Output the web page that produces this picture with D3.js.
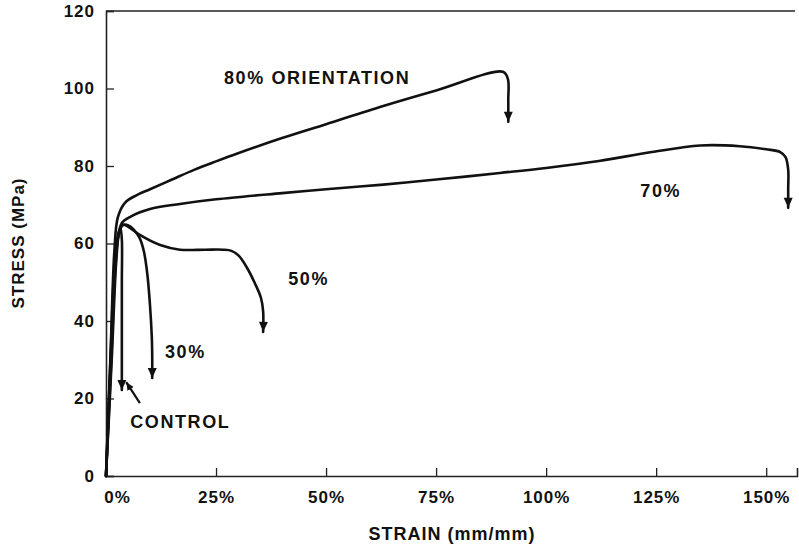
<!DOCTYPE html>
<html><head><meta charset="utf-8">
<script src="https://cdn.jsdelivr.net/npm/d3@7"></script>
<style>
html,body{margin:0;padding:0;background:#fff;}
text{font-family:"Liberation Sans",Arial,Helvetica,sans-serif;font-weight:bold;fill:#111;}
</style></head>
<body>
<svg id="chart" width="799" height="550"></svg>
<script>
// ---- data (strain in %, stress in MPa) ----
const strain80 = [0, 1.0, 1.9, 2.7, 4.3, 7.0, 10, 15, 20, 25, 30, 40, 50, 63, 75, 90.2, 91.3, 91.4, 91.4];
const stress80 = [0, 30, 58, 66.8, 70.5, 72.5, 74, 76.5, 79, 81.2, 83.3, 87.2, 90.8, 95.5, 99.5, 104.3, 102.5, 97, 91.4];

const strain70 = [0, 1.0, 2.0, 2.8, 3.6, 5.5, 10, 16.8, 25, 40, 50, 63, 75, 89.5, 100, 112, 124, 135, 144, 150, 153.2, 154.4, 155, 155, 155];
const stress70 = [0, 30, 55, 62, 65.3, 66.9, 68.9, 70.2, 71.4, 73, 74, 75.2, 76.5, 78.2, 79.5, 81.3, 83.6, 85.3, 85.1, 84.3, 83.6, 82.3, 79, 74, 69.2];

const strain50 = [0, 1.1, 2.1, 2.9, 3.9, 5.5, 7.7, 12.3, 16.8, 22.5, 26.6, 28.5, 30.2, 32.0, 33.8, 35.2, 35.7, 35.7];
const stress50 = [0, 30, 55, 63, 64.8, 64, 62.2, 59.6, 58.4, 58.4, 58.4, 58.1, 56.8, 53.8, 49.8, 46, 42.5, 37.2];

const strain30 = [0, 1.2, 2.2, 3.0, 3.9, 5.2, 6.3, 7.6, 8.6, 9.4, 10.0, 10.4, 10.5, 10.5];
const stress30 = [0, 30, 55, 63, 64.8, 64.6, 63.6, 61.5, 58, 52, 44, 36, 31, 25.3];

const strainC = [0, 1.3, 2.3, 2.9, 3.3, 3.6, 3.6, 3.6, 3.6];
const stressC = [0, 30, 55, 62.5, 64, 61, 50, 35, 22.2];

const yTicks = [0, 20, 40, 60, 80, 100, 120];
const xTicks = [0, 25, 50, 75, 100, 125, 150];
const xTickLabels = ["0%", "25%", "50%", "75%", "100%", "125%", "150%"];

const labelText   = ["80% ORIENTATION", "70%", "50%", "30%", "CONTROL"];
const labelStrain = [26.8, 121.4, 41.4, 13.4, 5.5];
const labelStress = [101.2, 72, 49.3, 30.5, 12.4];

// leader from CONTROL label to control curve end
const leaderStrain = [7.7, 4.6];
const leaderStress = [18.8, 24.2];

// ---- chart ----
const svg = d3.select("#chart");
const x = d3.scaleLinear().domain([0, 157]).range([106, 797]);
const y = d3.scaleLinear().domain([0, 120]).range([476, 11]);

const defs = svg.append("defs");
defs.append("marker").attr("id", "arrow")
  .attr("markerUnits", "userSpaceOnUse")
  .attr("viewBox", "0 -5 10 10").attr("refX", 10).attr("refY", 0)
  .attr("markerWidth", 12).attr("markerHeight", 10)
  .attr("orient", "auto")
  .append("path").attr("d", "M0,-4.5L10,0L0,4.5Z").attr("fill", "#111");
defs.append("marker").attr("id", "arrowSmall")
  .attr("markerUnits", "userSpaceOnUse")
  .attr("viewBox", "0 -5 10 10").attr("refX", 10).attr("refY", 0)
  .attr("markerWidth", 8).attr("markerHeight", 8)
  .attr("orient", "auto")
  .append("path").attr("d", "M0,-4.5L10,0L0,4.5Z").attr("fill", "#111");

// axes
const yAxis = d3.axisLeft(y).tickValues(yTicks).tickSize(-8).tickPadding(10).tickFormat(d3.format("d"));
const gy = svg.append("g").attr("transform", `translate(${x(0)},0)`).call(yAxis);
const xAxis = d3.axisBottom(x).tickValues(xTicks).tickSize(-8).tickPadding(15)
  .tickFormat((d, i) => xTickLabels[i]);
const gx = svg.append("g").attr("transform", `translate(0,${y(0)})`).call(xAxis);

[gx, gy].forEach(g => {
  g.select(".domain").attr("stroke", "#222").attr("stroke-width", 1.6);
  g.selectAll(".tick line").attr("stroke", "#222").attr("stroke-width", 1.3);
  g.selectAll(".tick text").style("font-size", "17px").style("letter-spacing", "1px")
    .style("font-family", '"Liberation Sans",Arial,sans-serif').style("font-weight", "bold").attr("fill", "#111");
});
gy.selectAll(".tick text").attr("dx", "-1");
gx.selectAll(".tick text").filter(d => d === 0).attr("dx", "11");

// top border
svg.append("line").attr("x1", x(0)).attr("x2", x(157) - 2).attr("y1", y(120)).attr("y2", y(120))
  .attr("stroke", "#222").attr("stroke-width", 1.5);

// axis titles
svg.append("text").attr("x", 452).attr("y", 540).attr("text-anchor", "middle")
  .style("font-size", "18px").style("letter-spacing", "1px").text("STRAIN (mm/mm)");
svg.append("text").attr("transform", "translate(24,243) rotate(-90)").attr("text-anchor", "middle")
  .style("font-size", "17px").style("letter-spacing", "1px").text("STRESS (MPa)");

// curves
const line = d3.line().x(d => x(d[0])).y(d => y(d[1])).curve(d3.curveCatmullRom.alpha(0.5));
const series = [
  [strain80, stress80],
  [strain70, stress70],
  [strain50, stress50],
  [strain30, stress30],
  [strainC, stressC]
];
series.forEach(([sx, sy]) => {
  const pts = sx.map((v, i) => [v, sy[i]]);
  svg.append("path").attr("d", line(pts)).attr("fill", "none")
    .attr("stroke", "#111").attr("stroke-width", 2.6)
    .attr("stroke-linejoin", "round").attr("stroke-linecap", "round")
    .attr("marker-end", "url(#arrow)");
});

// leader
svg.append("path")
  .attr("d", d3.line().x(d => x(d[0])).y(d => y(d[1]))(leaderStrain.map((v, i) => [v, leaderStress[i]])))
  .attr("fill", "none").attr("stroke", "#111").attr("stroke-width", 2.2)
  .attr("marker-end", "url(#arrowSmall)");

// labels
labelText.forEach((t, i) => {
  svg.append("text").attr("x", x(labelStrain[i])).attr("y", y(labelStress[i]))
    .style("font-size", "18px").style("letter-spacing", "1.6px").text(t);
});
</script>
</body></html>
